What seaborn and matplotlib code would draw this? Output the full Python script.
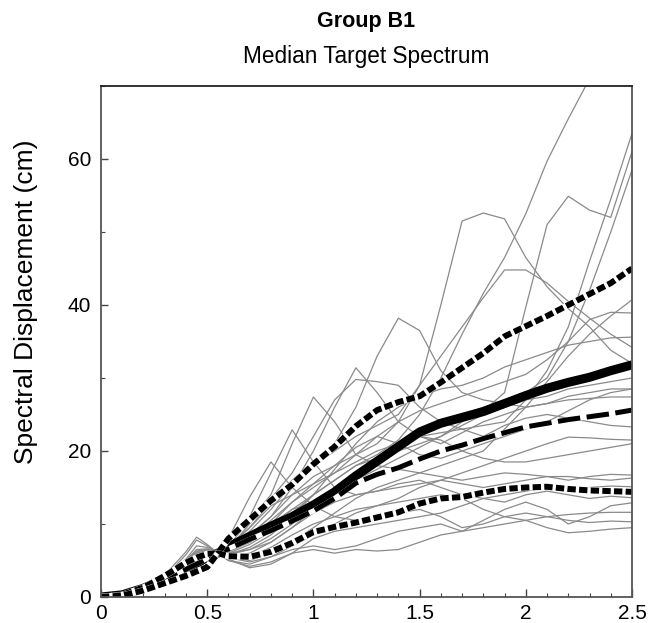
import numpy as np
import pandas as pd
import matplotlib
matplotlib.use("Agg")
import matplotlib.pyplot as plt
import seaborn as sns
from matplotlib.ticker import MultipleLocator, FixedLocator

# Periods (s) at which every spectrum is tabulated
periods = [0, 0.1, 0.2, 0.3, 0.4, 0.45, 0.5, 0.55, 0.6, 0.7, 0.8, 0.9, 1.0, 1.1,
           1.2, 1.3, 1.4, 1.5, 1.6, 1.7, 1.8, 1.9, 2.0, 2.1, 2.2, 2.3, 2.4, 2.5]

# Scaled record spectra, spectral displacement (cm)
records = {
    "R01": [0, 0.3, 1.0, 2.4, 4.2, 5.0, 5.6, 6.0, 6.3, 7.5, 9.5, 12.0, 14.0, 16.0, 18.0, 19.5, 21.5, 25.0, 30.0, 36.0, 41.6, 46.5, 52.5, 59.7, 65.5, 71.0, 76.0, 81.0],
    "R02": [0, 0.3, 1.1, 2.6, 4.5, 5.5, 6.1, 6.0, 6.5, 8.5, 11.0, 14.0, 16.5, 18.0, 19.5, 21.0, 24.0, 29.0, 40.0, 51.5, 52.6, 51.8, 46.5, 42.5, 39.5, 37.0, 33.8, 32.0],
    "R03": [0, 0.2, 0.9, 2.2, 3.8, 4.6, 5.4, 6.0, 5.8, 6.5, 8.0, 10.0, 12.5, 14.0, 16.0, 17.5, 19.0, 20.5, 22.0, 24.0, 25.5, 28.0, 39.7, 51.0, 54.9, 53.0, 52.0, 61.0],
    "R04": [0, 0.3, 1.0, 2.4, 4.0, 5.2, 6.0, 6.0, 6.2, 8.0, 10.5, 13.0, 15.5, 17.0, 18.5, 20.0, 21.0, 22.0, 22.5, 23.0, 23.5, 24.0, 27.0, 31.0, 37.0, 46.0, 54.5, 63.5],
    "R05": [0, 0.3, 1.2, 2.8, 5.0, 6.2, 6.5, 6.0, 5.5, 6.0, 7.5, 9.5, 12.0, 14.5, 17.0, 19.0, 20.5, 22.0, 23.5, 25.0, 26.0, 27.0, 28.0, 30.0, 35.0, 42.0, 50.0, 58.5],
    "R06": [0, 0.3, 1.0, 2.5, 4.8, 6.0, 6.4, 6.0, 6.5, 9.0, 12.0, 15.5, 18.0, 20.0, 22.0, 23.5, 25.0, 29.0, 33.0, 37.0, 41.0, 44.8, 44.8, 43.0, 40.5, 38.2, 36.0, 34.2],
    "R07": [0, 0.3, 1.1, 2.7, 5.8, 7.8, 7.0, 6.0, 6.8, 9.5, 13.0, 16.0, 18.5, 21.0, 26.0, 33.0, 38.2, 36.5, 31.0, 28.0, 27.0, 26.5, 26.0, 26.5, 27.5, 28.0, 28.5, 28.5],
    "R08": [0, 0.2, 0.9, 2.3, 4.2, 5.2, 5.9, 6.0, 6.6, 10.0, 13.5, 17.0, 22.0, 27.0, 29.8, 29.5, 29.0, 26.0, 24.0, 23.0, 22.0, 23.5, 24.5, 25.0, 24.5, 24.0, 23.5, 23.3],
    "R09": [0, 0.3, 1.2, 3.0, 6.2, 8.2, 7.2, 6.0, 7.0, 10.5, 14.0, 21.0, 27.4, 24.0, 19.5, 18.0, 17.5, 17.0, 16.5, 16.0, 16.5, 17.0, 16.8, 16.5, 16.0, 16.5, 16.8, 16.7],
    "R10": [0, 0.3, 1.0, 2.5, 5.2, 7.0, 6.8, 6.0, 7.5, 11.0, 17.0, 22.9, 18.5, 15.0, 14.0, 14.5, 15.5, 16.0, 15.0, 14.0, 13.5, 13.0, 14.0, 14.5, 14.0, 13.5, 13.8, 13.6],
    "R11": [0, 0.3, 1.1, 2.6, 5.0, 6.5, 6.6, 6.0, 8.0, 13.7, 18.5, 15.0, 12.5, 11.0, 10.5, 11.0, 11.5, 12.0, 11.0, 9.5, 10.0, 11.0, 11.5, 11.0, 10.5, 10.2, 10.4, 10.3],
    "R12": [0, 0.2, 0.9, 2.2, 4.0, 5.0, 5.7, 6.0, 6.5, 8.5, 11.0, 15.0, 20.0, 26.0, 31.4, 28.0, 24.0, 22.0, 21.0, 22.5, 24.0, 25.0, 26.0, 26.5, 27.0, 27.2, 27.4, 27.4],
    "R13": [0, 0.2, 0.8, 2.0, 3.4, 4.2, 5.0, 6.0, 5.5, 5.0, 6.0, 7.5, 9.5, 11.5, 13.5, 15.0, 16.0, 17.0, 18.0, 19.0, 20.0, 23.0, 26.0, 29.5, 33.0, 36.0, 38.5, 40.7],
    "R14": [0, 0.3, 1.0, 2.4, 4.4, 5.6, 6.0, 6.0, 6.2, 7.5, 10.0, 13.0, 15.0, 17.0, 19.5, 22.0, 24.0, 25.5, 26.5, 27.5, 28.5, 29.5, 30.5, 32.5, 35.0, 38.0, 39.0, 38.9],
    "R15": [0, 0.2, 0.9, 2.3, 4.0, 5.0, 5.8, 6.0, 5.8, 6.8, 8.5, 11.0, 14.0, 17.5, 21.0, 24.0, 26.0, 27.5, 28.5, 29.0, 30.0, 31.5, 32.5, 33.5, 34.5, 35.0, 35.5, 35.6],
    "R16": [0, 0.3, 1.1, 2.7, 5.0, 6.3, 6.5, 6.0, 6.0, 7.2, 9.0, 11.5, 14.0, 16.0, 18.0, 19.0, 20.0, 21.0, 22.0, 23.5, 25.0, 26.0, 27.0, 27.5, 28.5, 29.0, 29.5, 30.0],
    "R17": [0, 0.2, 0.8, 2.0, 3.5, 4.4, 5.2, 6.0, 5.0, 4.5, 5.5, 7.0, 8.5, 10.0, 11.5, 12.5, 13.5, 15.0, 16.0, 17.0, 18.0, 19.0, 20.0, 21.0, 21.9, 21.8, 21.6, 21.5],
    "R18": [0, 0.3, 1.0, 2.5, 4.6, 5.8, 6.2, 6.0, 6.0, 6.5, 7.5, 9.5, 11.5, 13.0, 14.0, 14.5, 15.0, 15.5, 16.0, 15.5, 15.0, 15.5, 16.0, 16.5, 16.5, 16.2, 16.0, 16.3],
    "R19": [0, 0.2, 0.9, 2.2, 3.6, 4.4, 5.2, 6.0, 5.2, 4.0, 4.5, 6.0, 8.0, 9.0, 9.5, 10.0, 10.5, 11.0, 11.5, 12.5, 13.5, 14.0, 14.5, 15.0, 14.8, 15.0, 15.2, 15.1],
    "R20": [0, 0.3, 1.0, 2.4, 4.2, 5.2, 5.9, 6.0, 5.4, 4.8, 5.5, 6.5, 7.0, 6.5, 7.0, 8.0, 9.0, 9.5, 10.0, 9.0, 10.5, 12.0, 13.0, 12.0, 10.0, 11.0, 12.5, 12.9],
    "R21": [0, 0.2, 0.9, 2.3, 3.9, 4.8, 5.5, 6.0, 5.0, 4.2, 4.8, 6.0, 6.5, 6.0, 6.5, 6.3, 6.5, 7.5, 8.5, 9.0, 9.5, 10.0, 10.5, 11.0, 11.3, 11.5, 11.6, 11.6],
    "R22": [0, 0.2, 0.8, 2.1, 3.7, 4.5, 5.3, 6.0, 5.6, 5.5, 6.8, 8.5, 10.0, 11.0, 12.0, 12.5, 13.0, 13.5, 14.0, 13.5, 12.0, 11.0, 10.5, 9.5, 8.8, 9.0, 9.3, 9.5],
    "R23": [0, 0.3, 1.1, 2.6, 4.8, 6.0, 6.3, 6.0, 7.0, 9.5, 12.5, 14.0, 15.5, 18.0, 20.5, 22.0, 21.0, 19.5, 19.0, 20.0, 21.0, 22.0, 23.0, 24.0, 25.5, 27.0, 28.0, 28.5],
    "R24": [0, 0.2, 1.0, 2.5, 4.5, 5.5, 6.0, 6.0, 6.5, 8.0, 10.0, 12.0, 13.0, 14.5, 16.5, 19.0, 21.0, 22.0, 21.5, 20.0, 19.0, 18.5, 18.5, 19.0, 19.5, 20.0, 20.5, 21.0],
}

# Target spectrum and statistics of the suite
median_target = [0, 0.3, 1.2, 2.5, 3.9, 4.6, 5.4, 6.0, 6.9, 8.3, 9.7, 11.0, 12.6, 14.4, 16.6, 18.6, 20.6, 22.6, 23.8, 24.6, 25.4, 26.5, 27.6, 28.6, 29.4, 30.1, 31.0, 31.8]
plus_sigma = [0, 0.3, 1.3, 2.9, 4.7, 5.4, 5.9, 6.0, 8.0, 10.6, 13.2, 15.4, 18.2, 20.6, 23.4, 25.6, 26.7, 27.5, 29.4, 31.4, 33.4, 35.7, 37.1, 38.5, 40.0, 41.5, 43.0, 45.0]
minus_sigma = [0, 0.2, 0.9, 1.9, 2.9, 3.5, 4.1, 6.0, 5.6, 5.5, 6.2, 7.4, 8.9, 9.6, 10.2, 10.9, 11.6, 12.8, 13.5, 13.7, 14.3, 14.8, 15.0, 15.1, 14.8, 14.6, 14.5, 14.4]
suite_median = [0, 0.3, 1.2, 2.4, 3.8, 4.5, 5.3, 6.0, 6.6, 7.9, 9.1, 10.4, 11.8, 13.5, 15.6, 16.8, 17.7, 18.9, 20.0, 20.8, 21.7, 22.5, 23.3, 23.8, 24.3, 24.7, 25.1, 25.6]

x_ticks = [0, 0.5, 1.0, 1.5, 2.0, 2.5]
x_tick_labels = ["0", "0.5", "1", "1.5", "2", "2.5"]
y_ticks = [0, 20, 40, 60]

sns.set_style("white")
plt.rcParams["font.family"] = ["Liberation Sans", "DejaVu Sans"]
plt.rcParams["text.color"] = "black"
plt.rcParams["axes.labelcolor"] = "black"

long_df = pd.DataFrame(
    [(name, t, v) for name, vals in records.items() for t, v in zip(periods, vals)],
    columns=["record", "T", "Sd"],
)

fig = plt.figure(figsize=(6.51, 6.23), dpi=100)
ax = fig.add_axes([101 / 651, 26 / 623, 531 / 651, 511 / 623])

sns.lineplot(data=long_df, x="T", y="Sd", units="record", estimator=None,
             color="#8a8a8a", linewidth=0.9, ax=ax, legend=False)

stats = pd.DataFrame({"T": periods, "median": median_target, "plus": plus_sigma,
                      "minus": minus_sigma, "suite": suite_median})

sns.lineplot(data=stats, x="T", y="median", color="black", linewidth=6.5,
             solid_capstyle="butt", ax=ax)
sns.lineplot(data=stats, x="T", y="suite", color="white", linewidth=3.6, ax=ax)
sns.lineplot(data=stats, x="T", y="suite", color="black", linewidth=3.6,
             linestyle=(0, (4.5, 1.3)), ax=ax)
for col in ["plus", "minus"]:
    sns.lineplot(data=stats, x="T", y=col, color="white", linewidth=4.6, ax=ax)
    sns.lineplot(data=stats, x="T", y=col, color="black", linewidth=4.3,
                 linestyle=(0, (1.4, 0.55)), ax=ax)

ax.set_xlim(0, 2.5)
ax.set_ylim(0, 70)
ax.xaxis.set_major_locator(FixedLocator(x_ticks))
ax.set_xticklabels(x_tick_labels)
ax.xaxis.set_minor_locator(MultipleLocator(0.1))
ax.yaxis.set_major_locator(FixedLocator(y_ticks))
ax.yaxis.set_minor_locator(MultipleLocator(10))
ax.tick_params(which="both", direction="in", colors="#444444", labelcolor="black",
               labelsize=15, bottom=True, left=True)
ax.tick_params(axis="y", which="major", length=5, width=1, pad=7)
ax.tick_params(axis="x", which="major", length=6, width=1, pad=5)
ax.tick_params(which="minor", length=3, width=0.8)

for side in ["left", "bottom", "right"]:
    ax.spines[side].set_color("#555555")
    ax.spines[side].set_linewidth(1.3)
ax.spines["top"].set_color("#222222")
ax.spines["top"].set_linewidth(1.3)

ax.set_xlabel("")
ax.set_ylabel("Spectral Displacement (cm)", fontsize=19)
ax.yaxis.set_label_coords(-0.119, 0.577)

cx = (101 + 531 / 2) / 651
fig.text(cx, 1 - 21 / 623, "Group B1", ha="center", va="center",
         fontsize=15.5, fontweight="bold")
fig.text(cx, 1 - 57 / 623, "Median Target Spectrum", ha="center", va="center",
         fontsize=16.3)

fig.savefig("out.png", dpi=100)
